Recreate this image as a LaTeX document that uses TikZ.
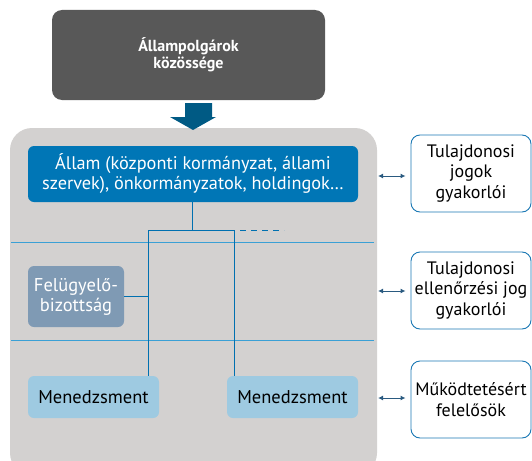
\documentclass[tikz,border=0pt]{standalone}
\usepackage{fontspec}
\setmainfont{PT Sans}
\usetikzlibrary{arrows.meta}
\definecolor{darkbox}{HTML}{585858}
\definecolor{arrowblue}{HTML}{005A84}
\definecolor{panel}{HTML}{D3D1D0}
\definecolor{stateblue}{HTML}{0076B6}
\definecolor{linebl}{HTML}{3AA0D5}
\definecolor{boardc}{HTML}{7F9AB4}
\definecolor{mgmt}{HTML}{9ECAE1}
\definecolor{connb}{HTML}{0070B0}
\definecolor{rolebd}{HTML}{1A78B4}
\definecolor{dblarrow}{HTML}{2A5A80}
\tikzset{
  box/.style={rounded corners=6pt, inner sep=0pt, align=center},
  rolebox/.style={box, draw=rolebd, line width=0.9pt, fill=white, minimum width=120pt, minimum height=77pt, rounded corners=9pt, font=\fontsize{18}{20.5}\selectfont},
  mgmtbox/.style={box, fill=mgmt, minimum width=131pt, minimum height=42pt, font=\fontsize{18.5}{20}\selectfont},
  conn/.style={draw=connb, line width=1pt},
  sep/.style={draw=linebl, line width=1pt},
  dbl/.style={draw=dblarrow, line width=1pt, {Latex[length=5pt,width=5pt]}-{Latex[length=5pt,width=5pt]}}
}
\begin{document}
\begin{tikzpicture}[x=1pt,y=-1pt]
\useasboundingbox (0,0) rectangle (532,460);
% top box
\node[box, fill=darkbox, text=white, minimum width=273pt, minimum height=90pt, rounded corners=10pt, font=\bfseries\fontsize{16}{17}\selectfont] (citizens) at (188.5,55) {Állampolgárok\\közössége};
% big panel
\fill[panel, rounded corners=22pt] (10,128) rectangle (377,475);
% down arrow
\fill[arrowblue] (185,103) -- (212,103) -- (212,117) -- (216,117) -- (193,130) -- (170,117) -- (185,117) -- cycle;
% separators
\coordinate (s1l) at (11,242); \coordinate (s1r) at (374,242);
\coordinate (s2l) at (11,340); \coordinate (s2r) at (374,340);
\draw[sep] (s1l) -- (s1r);
\draw[sep] (s2l) -- (s2r);
% state box
\node[box, fill=stateblue, text=white, minimum width=330pt, minimum height=56pt, font=\fontsize{18.3}{20}\selectfont] (state) at (193,174) {Állam (központi kormányzat, állami\\szervek), önkormányzatok, holdingok…};
% board
\node[box, fill=boardc, text=white, minimum width=96pt, minimum height=61pt, font=\fontsize{18.5}{20}\selectfont] (board) at (76,296.5) {Felügyelő-\\bizottság};
% management
\node[mgmtbox] (m1) at (93.5,397) {Menedzsment};
\node[mgmtbox] (m2) at (292.5,397) {Menedzsment};
% connectors
\coordinate (j) at (192,230);
\coordinate (jl) at (148,230);
\coordinate (jr) at (234,230);
\coordinate (dend) at (284,230);
\draw[conn] (state.south -| j) -- (j);
\draw[conn] (jl) -- (jr);
\draw[conn] (jl) -- (jl |- m1.north);
\draw[conn] (jr) -- (jr |- m2.north);
\draw[conn] (board.east) -- (board.east -| jl);
\draw[conn, dash pattern=on 6pt off 5pt] ([xshift=6pt]jr) -- (dend);
% role boxes
\node[rolebox] (r1) at (471,173.5) {Tulajdonosi\\jogok\\gyakorlói};
\node[rolebox] (r2) at (471,290.5) {Tulajdonosi\\ellenőrzési jog\\gyakorlói};
\node[rolebox] (r3) at (471,399.5) {Működtetésért\\felelősök};
% double arrows
\coordinate (a1) at (378,176);
\coordinate (a2) at (378,291);
\coordinate (a3) at (378,398);
\draw[dbl] (a1) -- ([xshift=-5pt]a1 -| r1.west);
\draw[dbl] (a2) -- ([xshift=-5pt]a2 -| r2.west);
\draw[dbl] (a3) -- ([xshift=-5pt]a3 -| r3.west);
\end{tikzpicture}
\end{document}
